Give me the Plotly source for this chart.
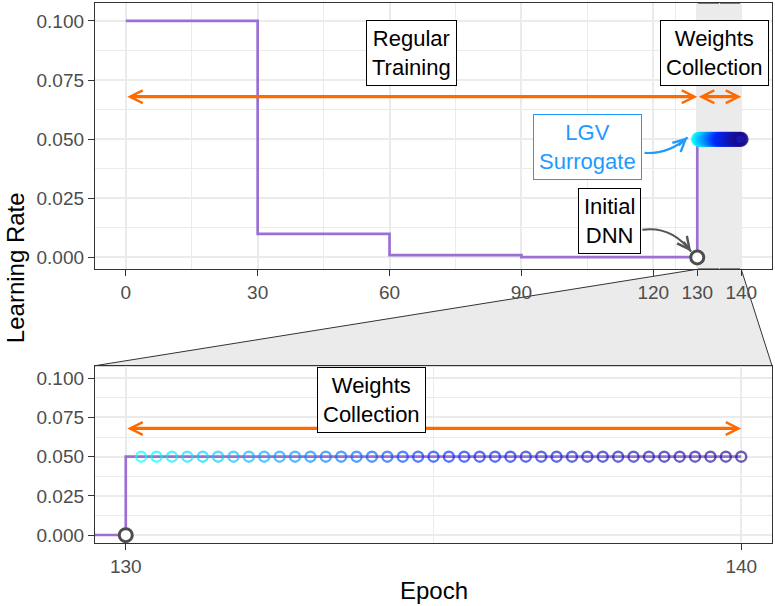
import plotly.graph_objects as go

# ---------------- data ----------------
step_epochs = [0, 30, 60, 90, 130, 140]
step_lr = [0.1, 0.01, 0.001, 0.0001, 0.05, 0.05]

collect_epochs = [130.25, 130.5, 130.75, 131.0, 131.25, 131.5, 131.75, 132.0,
                  132.25, 132.5, 132.75, 133.0, 133.25, 133.5, 133.75, 134.0,
                  134.25, 134.5, 134.75, 135.0, 135.25, 135.5, 135.75, 136.0,
                  136.25, 136.5, 136.75, 137.0, 137.25, 137.5, 137.75, 138.0,
                  138.25, 138.5, 138.75, 139.0, 139.25, 139.5, 139.75, 140.0]
collect_lr_value = 0.05

initial_epoch = [130]
initial_lr = [0.0]

top_xticks = [0, 30, 60, 90, 120, 130, 140]
top_xminor = [15, 45, 75, 105, 125, 135]
bot_xticks = [130, 140]
bot_xminor = [135]
yticks = [0, 0.025, 0.05, 0.075, 0.1]
yticklabels = ["0.000", "0.025", "0.050", "0.075", "0.100"]
yminor = [0.0125, 0.0375, 0.0625, 0.0875]

# phase arrows (x start, x end, y)
top_arrows = [(0, 130, 0.068), (130, 140, 0.068)]
bot_arrows = [(130, 140, 0.068)]

# labels
top_label_text = ["Regular<br>Training", "Weights<br>Collection"]
top_label_x = [65, 134]
top_label_y = [0.0864, 0.0864]
bot_label_text = ["Weights<br>Collection"]
bot_label_x = [134]
bot_label_y = [0.0862]

lgv_label = ("LGV<br>Surrogate", 105.0, 0.0468)
init_label = ("Initial<br>DNN", 110.0, 0.0155)
# curved connectors: start, control, end (data units, top panel)
lgv_curve = [(118.0, 0.0442), (123.6, 0.0437), (127.8, 0.0508)]
init_curve = [(117.5, 0.0117), (124.1, 0.0134), (128.6, 0.0025)]

# ---------------- style ----------------
FONT = "Liberation Sans"
PURPLE = "#9A70D4"
ORANGE = "#FF6A00"
BLUE = "#1E9BFF"
GRID = "#EBEBEB"
BORDER = "#333333"
TICKC = "#4D4D4D"

W, H = 775, 606
ML, MR, MT, MB = 95, 3, 3, 63
PW, PH = W - ML - MR, H - MT - MB

top_xr = [-7, 147]
bot_xr = [129.5, 140.5]
top_yr = [-0.005, 0.1076]
bot_yr = [-0.005, 0.108]
top_dom = [0.5069, 1.0]
bot_dom = [0.0, 0.3283]


def grad(n):
    stops = [(0.0, (0, 255, 255)), (0.5, (0, 40, 255)), (1.0, (26, 10, 140))]
    out = []
    for i in range(n):
        t = i / (n - 1)
        for (t0, c0), (t1, c1) in zip(stops[:-1], stops[1:]):
            if t0 <= t <= t1:
                f = (t - t0) / (t1 - t0)
                c = [round(a + (b - a) * f) for a, b in zip(c0, c1)]
                out.append("rgb(%d,%d,%d)" % tuple(c))
                break
    return out


cols = grad(len(collect_epochs))
collect_lr = [collect_lr_value for _ in collect_epochs]

fig = go.Figure()

for xa, ya, msize, mlw, op in [("x", "y", 12, 3, 0.75), ("x2", "y2", 10, 2.4, 0.65)]:
    fig.add_trace(go.Scatter(x=step_epochs, y=step_lr, mode="lines", line_shape="hv",
                             line=dict(color=PURPLE, width=2.7), xaxis=xa, yaxis=ya,
                             showlegend=False, hoverinfo="skip"))
    fig.add_trace(go.Scatter(x=collect_epochs, y=collect_lr, mode="markers",
                             marker=dict(symbol="circle-open", size=msize, color=cols,
                                         opacity=op, line=dict(width=mlw)),
                             xaxis=xa, yaxis=ya, showlegend=False, hoverinfo="skip"))
    fig.add_trace(go.Scatter(x=initial_epoch, y=initial_lr, mode="markers",
                             marker=dict(symbol="circle", size=13, color="white",
                                         line=dict(color=TICKC, width=3)),
                             xaxis=xa, yaxis=ya, showlegend=False, hoverinfo="skip",
                             cliponaxis=False))

shapes = []
# shaded collection region in top panel
shapes.append(dict(type="rect", xref="x", yref="paper", x0=130, x1=140,
                   y0=top_dom[0], y1=top_dom[1],
                   fillcolor="#EBEBEB", line=dict(color="#555555", width=1.3), layer="below"))
# zoom trapezoid between panels
p130 = (130 - top_xr[0]) / (top_xr[1] - top_xr[0])
p140 = (140 - top_xr[0]) / (top_xr[1] - top_xr[0])
yt, yb = top_dom[0], bot_dom[1]
shapes.append(dict(type="path", xref="paper", yref="paper",
                   path="M%f,%f L%f,%f L1,%f L0,%f Z" % (p130, yt, p140, yt, yb, yb),
                   fillcolor="#EBEBEB", line=dict(color="#333333", width=1), layer="below"))
# curved connectors
for crv, col in [(lgv_curve, BLUE), (init_curve, "#555555")]:
    (x0, y0), (cx, cy), (x1, y1) = crv
    shapes.append(dict(type="path", xref="x", yref="y",
                       path="M%f,%f Q%f,%f %f,%f" % (x0, y0, cx, cy, x1, y1),
                       line=dict(color=col, width=2.2)))

ann = []
arrow_kw = dict(text="", showarrow=True, arrowside="end+start", arrowhead=5,
                startarrowhead=5, arrowsize=0.78, startarrowsize=0.78,
                arrowwidth=3.2, arrowcolor=ORANGE, standoff=0, startstandoff=0)
for x0, x1, y in top_arrows:
    ann.append(dict(x=x1, y=y, ax=x0, ay=y, xref="x", yref="y", axref="x", ayref="y", **arrow_kw))
for x0, x1, y in bot_arrows:
    ann.append(dict(x=x1, y=y, ax=x0, ay=y, xref="x2", yref="y2", axref="x2", ayref="y2", **arrow_kw))

lab_font = dict(family=FONT, size=22, color="black")
box_kw = dict(showarrow=False, bgcolor="white", bordercolor="black", borderwidth=1, borderpad=5)
for t, x, y in zip(top_label_text, top_label_x, top_label_y):
    ann.append(dict(x=x, y=y, xref="x", yref="y", text=t, font=lab_font, **box_kw))
for t, x, y in zip(bot_label_text, bot_label_x, bot_label_y):
    ann.append(dict(x=x, y=y, xref="x2", yref="y2", text=t, font=lab_font, **box_kw))
ann.append(dict(x=lgv_label[1], y=lgv_label[2], xref="x", yref="y", text=lgv_label[0],
                showarrow=False, font=dict(family=FONT, size=22, color=BLUE),
                bgcolor="white", bordercolor=BLUE, borderwidth=1, borderpad=5))
ann.append(dict(x=init_label[1], y=init_label[2], xref="x", yref="y", text=init_label[0],
                font=lab_font, **box_kw))

# arrowheads at curve ends
top_ph = PH * (top_dom[1] - top_dom[0])
sx = PW / (top_xr[1] - top_xr[0])
sy = top_ph / (top_yr[1] - top_yr[0])
for crv, col in [(lgv_curve, BLUE), (init_curve, "#555555")]:
    (x0, y0), (cx, cy), (x1, y1) = crv
    dx = (x1 - cx) * sx
    dy = -(y1 - cy) * sy
    n = (dx * dx + dy * dy) ** 0.5
    ann.append(dict(x=x1, y=y1, xref="x", yref="y", ax=-dx / n * 14, ay=-dy / n * 14,
                    text="", showarrow=True, arrowhead=5, arrowsize=1.1, arrowwidth=2.2,
                    arrowcolor=col, standoff=0))

ann.append(dict(text="Learning Rate", xref="paper", yref="paper", x=-(ML - 15) / PW, y=0.509,
                textangle=-90, showarrow=False, xanchor="center", yanchor="middle",
                font=dict(family=FONT, size=24, color="black")))
ann.append(dict(text="Epoch", xref="paper", yref="paper", x=0.5, y=-(590 - (H - MB)) / PH,
                showarrow=False, xanchor="center", yanchor="middle",
                font=dict(family=FONT, size=24, color="black")))

axis_common = dict(showline=True, mirror=True, linecolor=BORDER, linewidth=1.3,
                   ticks="outside", ticklen=6, tickwidth=1.3, tickcolor=BORDER,
                   tickfont=dict(family=FONT, size=19, color=TICKC), automargin=False,
                   showgrid=True, gridcolor=GRID, gridwidth=1.6, zeroline=False)


def minor(vals):
    return dict(tickvals=vals, showgrid=True, gridcolor=GRID, gridwidth=0.8, ticks="")


fig.update_layout(
    width=W, height=H,
    margin=dict(l=ML, r=MR, t=MT, b=MB, autoexpand=False),
    paper_bgcolor="white", plot_bgcolor="white",
    shapes=shapes, annotations=ann,
    xaxis=dict(domain=[0, 1], anchor="y", range=top_xr, tickmode="array",
               tickvals=top_xticks, ticktext=[str(v) for v in top_xticks],
               minor=minor(top_xminor), **axis_common),
    yaxis=dict(domain=top_dom, anchor="x", range=top_yr, tickmode="array",
               tickvals=yticks, ticktext=yticklabels, minor=minor(yminor), **axis_common),
    xaxis2=dict(domain=[0, 1], anchor="y2", range=bot_xr, tickmode="array",
                tickvals=bot_xticks, ticktext=[str(v) for v in bot_xticks],
                minor=minor(bot_xminor), **axis_common),
    yaxis2=dict(domain=bot_dom, anchor="x2", range=bot_yr, tickmode="array",
                tickvals=yticks, ticktext=yticklabels, minor=minor(yminor), **axis_common),
)

fig.write_html("out.html", config={"displayModeBar": False},
               post_script="document.body.style.margin='0';document.body.style.overflow='hidden';")
